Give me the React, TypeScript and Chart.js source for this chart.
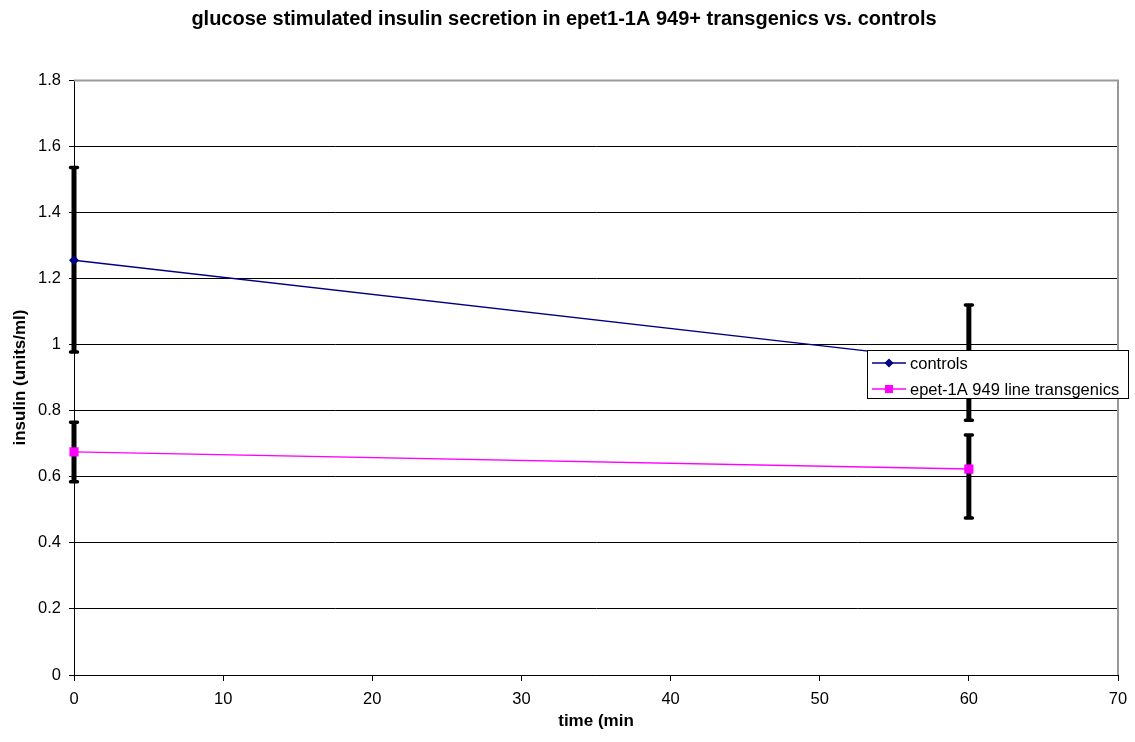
import React, { useEffect, useRef } from "react";
import { Chart, registerables } from "chart.js";

Chart.register(...registerables);

const chartTitle = "glucose stimulated insulin secretion in epet1-1A 949+ transgenics vs. controls";
const xAxisTitle = "time (min";
const yAxisTitle = "insulin (units/ml)";

const timePoints = [0, 60];
const seriesNames = ["controls", "epet-1A 949 line transgenics"];
const seriesColors = ["#000080", "#FF00FF"];
const seriesMarkers = ["rectRot", "rect"];

const controlsValues = [1.255, 0.945];
const controlsErrUp = [0.28, 0.174];
const controlsErrDown = [0.278, 0.174];

const transgenicValues = [0.675, 0.623];
const transgenicErrUp = [0.09, 0.103];
const transgenicErrDown = [0.09, 0.148];

const xTickMin = 0;
const xTickMax = 70;
const xTickStep = 10;
const yTickMin = 0;
const yTickMax = 1.8;
const yTickStep = 0.2;

const FONT = "'Liberation Sans', Arial, Helvetica, sans-serif";

const errUps = [controlsErrUp, transgenicErrUp];
const errDowns = [controlsErrDown, transgenicErrDown];

const errorBarPlugin = {
  id: "errorBars",
  beforeDatasetsDraw(chart: any) {
    const ctx = chart.ctx;
    const xs = chart.scales.x;
    const ys = chart.scales.y;
    ctx.save();
    chart.data.datasets.forEach((ds: any, i: number) => {
      ds.data.forEach((pt: any, j: number) => {
        const x = xs.getPixelForValue(pt.x);
        const yTop = ys.getPixelForValue(pt.y + errUps[i][j]);
        const yBot = ys.getPixelForValue(pt.y - errDowns[i][j]);
        ctx.strokeStyle = "#000";
        ctx.lineCap = "butt";
        ctx.lineWidth = 5;
        ctx.beginPath();
        ctx.moveTo(x, yTop);
        ctx.lineTo(x, yBot);
        ctx.stroke();
        ctx.lineCap = "round";
        ctx.lineWidth = 3.5;
        ctx.beginPath();
        ctx.moveTo(x - 3.5, yTop);
        ctx.lineTo(x + 3.5, yTop);
        ctx.moveTo(x - 3.5, yBot);
        ctx.lineTo(x + 3.5, yBot);
        ctx.stroke();
      });
    });
    ctx.restore();
  },
};

const frameAndTextPlugin = {
  id: "frameAndText",
  beforeDatasetsDraw(chart: any) {
    const { ctx, chartArea } = chart;
    ctx.save();
    ctx.strokeStyle = "#999999";
    ctx.lineWidth = 2;
    ctx.beginPath();
    ctx.moveTo(chartArea.left, chartArea.top + 0.5);
    ctx.lineTo(chartArea.right, chartArea.top + 0.5);
    ctx.lineTo(chartArea.right, chartArea.bottom);
    ctx.stroke();
    ctx.restore();
  },
  afterDraw(chart: any) {
    const { ctx } = chart;
    ctx.save();
    ctx.fillStyle = "#000";
    ctx.font = `bold 20px ${FONT}`;
    ctx.textAlign = "center";
    ctx.textBaseline = "middle";
    ctx.fillText(chartTitle, 564, 19);

    const lx = 867.5;
    const ly = 350.5;
    const lw = 261;
    const lh = 48;
    ctx.fillStyle = "#fff";
    ctx.fillRect(lx, ly, lw, lh);
    ctx.strokeStyle = "#000";
    ctx.lineWidth = 1;
    ctx.strokeRect(lx, ly, lw, lh);
    const rows = [363, 389];
    seriesNames.forEach((name, i) => {
      const y = rows[i];
      ctx.strokeStyle = seriesColors[i];
      ctx.lineWidth = 1.5;
      ctx.beginPath();
      ctx.moveTo(872, y);
      ctx.lineTo(906, y);
      ctx.stroke();
      ctx.fillStyle = seriesColors[i];
      ctx.beginPath();
      if (seriesMarkers[i] === "rectRot") {
        const r = 4.5;
        ctx.moveTo(889, y - r);
        ctx.lineTo(889 + r, y);
        ctx.lineTo(889, y + r);
        ctx.lineTo(889 - r, y);
        ctx.closePath();
      } else {
        ctx.rect(885, y - 4, 8, 8);
      }
      ctx.fill();
      ctx.fillStyle = "#000";
      ctx.font = `16.5px ${FONT}`;
      ctx.textAlign = "left";
      ctx.textBaseline = "middle";
      ctx.fillText(name, 910, y + 1);
    });
    ctx.restore();
  },
};

export default function App() {
  const canvasRef = useRef<HTMLCanvasElement | null>(null);

  useEffect(() => {
    if (!canvasRef.current) return;
    const mk = (vals: number[]) => vals.map((v, i) => ({ x: timePoints[i], y: v }));
    const chart = new Chart(canvasRef.current, {
      type: "line",
      data: {
        datasets: [
          {
            label: seriesNames[0],
            data: mk(controlsValues),
            borderColor: seriesColors[0],
            backgroundColor: seriesColors[0],
            borderWidth: 1.5,
            pointStyle: seriesMarkers[0] as any,
            pointRadius: 5,
            pointHoverRadius: 5,
            pointBorderWidth: 0,
            clip: false as any,
          },
          {
            label: seriesNames[1],
            data: mk(transgenicValues),
            borderColor: seriesColors[1],
            backgroundColor: seriesColors[1],
            borderWidth: 1.5,
            pointStyle: seriesMarkers[1] as any,
            pointRadius: 6.5,
            pointHoverRadius: 6.5,
            pointBorderWidth: 0,
            clip: false as any,
          },
        ],
      },
      options: {
        responsive: false,
        animation: false,
        layout: { padding: { left: 0, top: 80, right: 17, bottom: 0 } },
        plugins: {
          legend: { display: false },
          title: { display: false },
          tooltip: { enabled: false },
        },
        scales: {
          x: {
            type: "linear",
            min: xTickMin,
            max: xTickMax,
            ticks: {
              stepSize: xTickStep,
              color: "#000",
              font: { family: FONT, size: 16.5 },
              padding: 9,
              maxRotation: 0,
            },
            grid: {
              drawOnChartArea: false,
              drawTicks: true,
              tickLength: 6,
              color: "#000",
            },
            border: { color: "#000", width: 1 },
            title: {
              display: true,
              text: xAxisTitle,
              color: "#000",
              font: { family: FONT, size: 17, weight: "bold" },
              padding: { top: 0, bottom: 10 },
            },
            afterFit(s: any) {
              s.height = 67;
              s.paddingLeft = 0;
              s.paddingRight = 0;
            },
          },
          y: {
            type: "linear",
            min: yTickMin,
            max: yTickMax,
            ticks: {
              stepSize: yTickStep,
              color: "#000",
              font: { family: FONT, size: 16.5 },
              padding: 8,
              callback: (v: any) => String(Math.round(Number(v) * 10) / 10),
            },
            grid: {
              drawOnChartArea: true,
              drawTicks: true,
              tickLength: 5,
              color: "#000",
            },
            border: { color: "#000", width: 1 },
            title: {
              display: true,
              text: yAxisTitle,
              color: "#000",
              font: { family: FONT, size: 17, weight: "bold" },
              padding: { top: 10, bottom: 0 },
            },
            afterFit(s: any) {
              s.width = 74;
              s.paddingTop = 0;
              s.paddingBottom = 0;
            },
          },
        },
      },
      plugins: [errorBarPlugin, frameAndTextPlugin],
    });
    return () => chart.destroy();
  }, []);

  return (
    <div style={{ position: "absolute", left: 0, top: 0, width: 1135, height: 742, background: "#fff" }}>
      <canvas ref={canvasRef} width={1135} height={742} style={{ display: "block" }} />
    </div>
  );
}
